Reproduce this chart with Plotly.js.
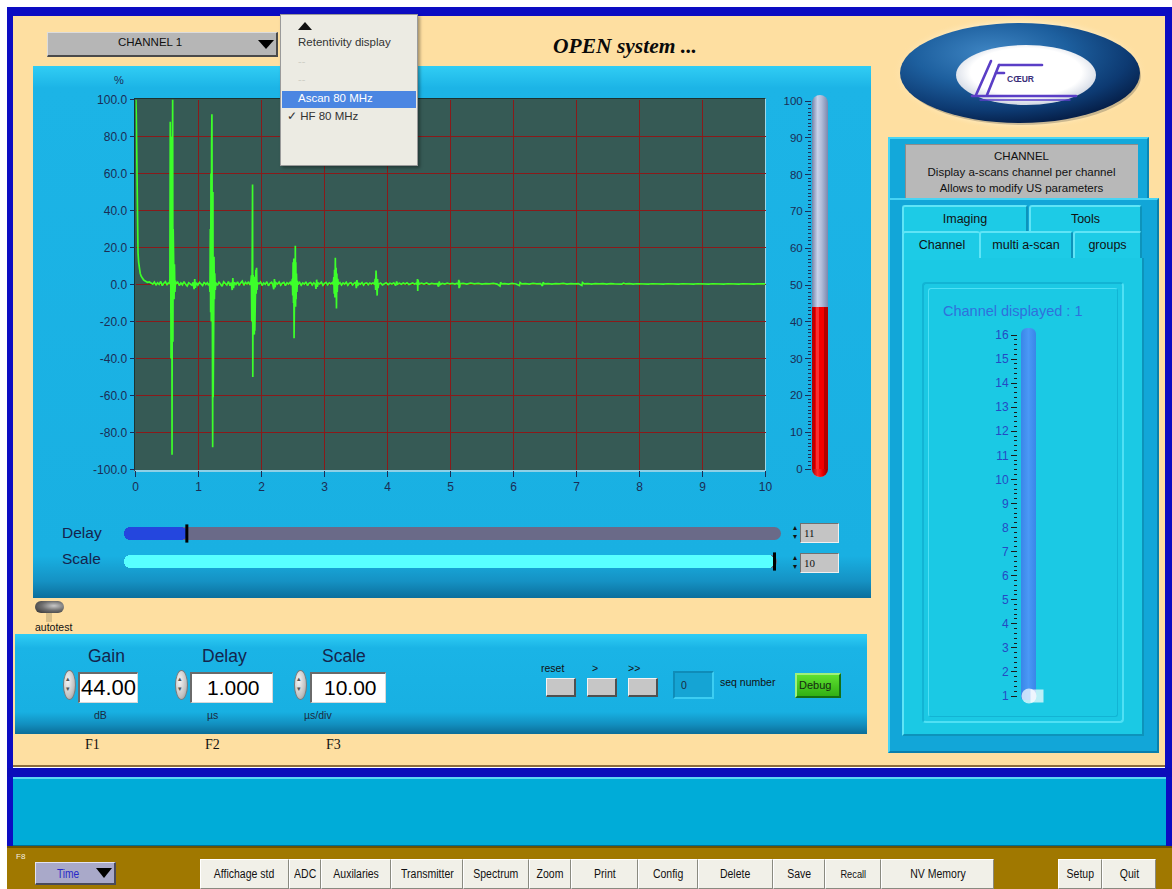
<!DOCTYPE html>
<html>
<head>
<meta charset="utf-8">
<script src="https://cdn.plot.ly/plotly-3.0.1.min.js"></script>
<style>
  body { margin: 0; background: #ffffff; }
  #app { position: relative; width: 1172px; height: 889px; overflow: hidden; background: #ffffff;
         font-family: "Liberation Sans", Arial, sans-serif; }
  .a { position: absolute; box-sizing: border-box; }
  .t { position: absolute; white-space: nowrap; line-height: 1; }
  .btn { position: absolute; box-sizing: border-box; background: #f1f0e8; border-top: 1px solid #ffffff;
         border-left: 1px solid #ffffff; border-right: 1px solid #8a8a80; border-bottom: 1px solid #8a8a80;
         display: flex; align-items: center; justify-content: center; font-size: 12.5px; color: #111; }
  .btn span { display: inline-block; transform: scaleX(0.84); }
  .tab { position: absolute; box-sizing: border-box; background: #1dcbe6; border-top: 2px solid #5fe4f6;
         border-left: 2px solid #5fe4f6; border-right: 2px solid #0d93bb; border-radius: 3px 3px 0 0;
         display: flex; justify-content: center; font-size: 12.5px; color: #111; padding-top: 5px; }
  .spin { position: absolute; box-sizing: border-box; border-radius: 50%; border: 1px solid #7a7a7a;
          background: radial-gradient(ellipse at 35% 35%, #f4f4f4 0%, #c4c4c4 60%, #8c8c8c 100%); }
  .valbox { position: absolute; box-sizing: border-box; background: #ffffff; border-top: 2px solid #6a6a6a;
            border-left: 2px solid #6a6a6a; border-right: 1px solid #d8d8d8; border-bottom: 1px solid #d8d8d8;
            font-size: 21px; color: #000; display: flex; align-items: center; }
  .gbtn { position: absolute; box-sizing: border-box; background: #c6c6c6; border-top: 1px solid #f4f4f4;
          border-left: 1px solid #f4f4f4; border-right: 2px solid #505050; border-bottom: 2px solid #505050; }
  .numctl { position: absolute; box-sizing: border-box; background: #c4c4c4; border-top: 1px solid #707070;
            border-left: 1px solid #707070; border-right: 1px solid #f0f0f0; border-bottom: 1px solid #f0f0f0;
            font-family: "Liberation Serif", serif; font-size: 11px; color: #111; padding: 3px 0 0 3px; }
  #plot .gridlayer path, #plot path.xtick, #plot path.ytick { shape-rendering: crispEdges; }
</style>
</head>
<body>
<div id="app">
  <!-- window frame -->
  <div class="a" style="left:7px;top:7px;width:1165px;height:9px;background:#0c0cc2;"></div>
  <div class="a" style="left:7px;top:7px;width:6px;height:882px;background:#0c0cc2;"></div>
  <div class="a" style="left:1165px;top:7px;width:7px;height:882px;background:#0c0cc2;"></div>
  <div class="a" style="left:13px;top:16px;width:1152px;height:751px;background:#fedfa1;border-bottom:2px solid #8c6c3c;"></div>

  <!-- channel selector -->
  <div class="a" style="left:47px;top:32px;width:231px;height:25px;background:#b6b6b6;border-top:1px solid #dcdcdc;border-left:1px solid #dcdcdc;border-right:2px solid #4a4a4a;border-bottom:2px solid #4a4a4a;"></div>
  <div class="t" style="left:118px;top:37px;font-size:11.5px;color:#111;">CHANNEL 1</div>
  <div class="a" style="left:258px;top:40px;width:0;height:0;border-left:8px solid transparent;border-right:8px solid transparent;border-top:9px solid #000;"></div>

  <!-- title -->
  <div class="t" style="left:553px;top:36px;font-family:'Liberation Serif',serif;font-weight:bold;font-style:italic;font-size:21.5px;color:#0a0a0a;">OPEN system ...</div>

  <!-- logo -->
  <svg class="a" style="left:892px;top:15px;" width="256" height="118" viewBox="0 0 256 118">
    <defs>
      <radialGradient id="glow" cx="50%" cy="50%" r="50%">
        <stop offset="0.82" stop-color="#fff6dc" stop-opacity="0.9"/>
        <stop offset="1" stop-color="#fedfa1" stop-opacity="0"/>
      </radialGradient>
      <radialGradient id="outer" cx="38%" cy="30%" r="72%">
        <stop offset="0" stop-color="#3f86c4"/>
        <stop offset="0.45" stop-color="#1d5f9e"/>
        <stop offset="0.8" stop-color="#0d3a72"/>
        <stop offset="1" stop-color="#06204a"/>
      </radialGradient>
      <radialGradient id="inner" cx="50%" cy="45%" r="55%">
        <stop offset="0.72" stop-color="#ffffff"/>
        <stop offset="1" stop-color="#cfd6e2"/>
      </radialGradient>
    </defs>
    <ellipse cx="128" cy="58" rx="128" ry="58" fill="url(#glow)"/>
    <ellipse cx="130" cy="61" rx="119" ry="49" fill="#6b6250" opacity="0.35"/>
    <ellipse cx="128" cy="58" rx="120" ry="50" fill="url(#outer)"/>
    <ellipse cx="134" cy="60" rx="70" ry="30" fill="url(#inner)"/>
    <g stroke="#5a3ec6" stroke-width="2.6" fill="none" stroke-linecap="round">
      <path d="M84 80 L99 46"/>
      <path d="M95 80 L107 50"/>
      <path d="M107 50 L150 50"/>
      <path d="M104 58 L112 58"/>
      <path d="M80 81 L184 81"/>
      <path d="M88 85 L178 85" stroke-width="1.3"/>
    </g>
    <text x="115" y="67" font-family="Liberation Sans, Arial" font-size="8.5" font-weight="bold" fill="#3a2f7a">CŒUR</text>
  </svg>

  <!-- main scope panel -->
  <div class="a" style="left:33px;top:66px;width:838px;height:532px;background:linear-gradient(to bottom,#31cdf4 0px,#1cb4e6 22px,#19b0e2 490px,#1592c4 515px,#0c6f9c 532px);"></div>
  <div class="a" style="left:134px;top:98px;width:632px;height:374px;background:#365a55;border-top:1px solid #1c3230;border-left:1px solid #1c3230;border-right:1px solid #9fd6e6;border-bottom:2px solid #8fd0e6;"></div>
  <div class="t" style="left:114px;top:75px;font-size:11px;color:#1b2d55;">%</div>

  <!-- gauge tube (empty part) and round bottom -->
  <div class="a" style="left:812px;top:95px;width:16px;height:382px;border-radius:8px;background:linear-gradient(to right,#7383a8 0%,#c9d2ea 35%,#b0bcd8 60%,#7a88ad 100%);"></div>
  <div class="a" style="left:812px;top:460px;width:16px;height:17px;border-radius:0 0 8px 8px;background:linear-gradient(to right,#a00000 0%,#ff2a2a 35%,#ee0000 65%,#8a0000 100%);"></div>

  <!-- delay / scale sliders -->
  <div class="t" style="left:62px;top:525px;font-size:15.5px;color:#15234d;">Delay</div>
  <div class="t" style="left:62px;top:551px;font-size:15.5px;color:#15234d;">Scale</div>
  <div class="a" style="left:124px;top:527px;width:657px;height:13px;border-radius:7px;background:#6a6a88;"></div>
  <div class="a" style="left:124px;top:555px;width:653px;height:13px;border-radius:7px;background:#6a6a88;"></div>
  <div class="t" style="left:793px;top:523px;font-size:8px;line-height:9px;color:#111;">▴<br>▾</div>
  <div class="numctl" style="left:800px;top:523px;width:39px;height:20px;">11</div>
  <div class="t" style="left:793px;top:553px;font-size:8px;line-height:9px;color:#111;">▴<br>▾</div>
  <div class="numctl" style="left:800px;top:553px;width:39px;height:20px;">10</div>

  <!-- autotest toggle -->
  <div class="a" style="left:46px;top:608px;width:6px;height:14px;background:#d9c08a;"></div>
  <div class="a" style="left:35px;top:601px;width:29px;height:12px;border-radius:6px;background:radial-gradient(ellipse at 65% 40%,#c8c8c8 0%,#707070 45%,#2c2c2c 100%);"></div>
  <div class="t" style="left:35px;top:622px;font-size:10.5px;color:#111;">autotest</div>

  <!-- lower control panel -->
  <div class="a" style="left:15px;top:634px;width:852px;height:100px;background:linear-gradient(to bottom,#2fcdf5 0px,#1ab4e6 14px,#18b0e2 78px,#1290c0 90px,#0b6d98 100px);"></div>
  <div class="t" style="left:88px;top:648px;font-size:17.5px;color:#14254d;">Gain</div>
  <div class="spin" style="left:63px;top:670px;width:13px;height:30px;"></div>
  <div class="t" style="left:66px;top:674px;font-size:7px;line-height:10px;color:#555;">▴<br>▾</div>
  <div class="valbox" style="left:78px;top:672px;width:60px;height:31px;padding-left:1px;font-size:22px;">44.00</div>
  <div class="t" style="left:94px;top:710px;font-size:10.5px;color:#1a2a40;">dB</div>

  <div class="t" style="left:202px;top:648px;font-size:17.5px;color:#14254d;">Delay</div>
  <div class="spin" style="left:175px;top:670px;width:13px;height:30px;"></div>
  <div class="t" style="left:178px;top:674px;font-size:7px;line-height:10px;color:#555;">▴<br>▾</div>
  <div class="valbox" style="left:190px;top:672px;width:83px;height:31px;padding-left:15px;">1.000</div>
  <div class="t" style="left:207px;top:710px;font-size:10.5px;color:#1a2a40;">µs</div>

  <div class="t" style="left:322px;top:648px;font-size:17.5px;color:#14254d;">Scale</div>
  <div class="spin" style="left:294px;top:670px;width:13px;height:30px;"></div>
  <div class="t" style="left:297px;top:674px;font-size:7px;line-height:10px;color:#555;">▴<br>▾</div>
  <div class="valbox" style="left:310px;top:672px;width:76px;height:31px;padding-left:12px;">10.00</div>
  <div class="t" style="left:304px;top:710px;font-size:10.5px;color:#1a2a40;">µs/div</div>

  <div class="t" style="left:85px;top:738px;font-family:'Liberation Serif',serif;font-size:14px;color:#111;">F1</div>
  <div class="t" style="left:205px;top:738px;font-family:'Liberation Serif',serif;font-size:14px;color:#111;">F2</div>
  <div class="t" style="left:326px;top:738px;font-family:'Liberation Serif',serif;font-size:14px;color:#111;">F3</div>

  <div class="t" style="left:541px;top:663px;font-size:10.5px;color:#111;">reset</div>
  <div class="t" style="left:592px;top:663px;font-size:10.5px;color:#111;">&gt;</div>
  <div class="t" style="left:628px;top:663px;font-size:10.5px;color:#111;">&gt;&gt;</div>
  <div class="gbtn" style="left:546px;top:678px;width:30px;height:19px;"></div>
  <div class="gbtn" style="left:587px;top:678px;width:30px;height:19px;"></div>
  <div class="gbtn" style="left:628px;top:678px;width:30px;height:19px;"></div>
  <div class="a" style="left:673px;top:671px;width:41px;height:28px;background:#15a4d4;border:2px solid #0f8cb8;border-right-color:#3ccdf2;border-bottom-color:#3ccdf2;"></div>
  <div class="t" style="left:681px;top:680px;font-size:10.5px;color:#1a2a40;">0</div>
  <div class="t" style="left:720px;top:677px;font-size:10.5px;color:#111;">seq number</div>
  <div class="a" style="left:795px;top:673px;width:46px;height:25px;background:linear-gradient(to bottom,#5ee030,#32b014);border:2px solid #147014;border-top-color:#9ff07a;border-left-color:#9ff07a;"></div>
  <div class="t" style="left:799px;top:680px;font-size:11px;color:#142a10;">Debug</div>

  <!-- right side panel -->
  <div class="a" style="left:888px;top:137px;width:261px;height:66px;background:#13a8da;border-top:2px solid #48d4f4;border-left:2px solid #48d4f4;border-right:2px solid #0b86b4;"></div>
  <div class="a" style="left:905px;top:144px;width:233px;height:55px;background:#b8b8b8;border-top:1px solid #8c8c8c;border-left:1px solid #8c8c8c;"></div>
  <div class="t" style="left:905px;top:148px;width:233px;text-align:center;font-size:11.5px;line-height:16px;color:#111;">CHANNEL<br>Display a-scans channel per channel<br>Allows to modify US parameters</div>
  <div class="a" style="left:888px;top:198px;width:271px;height:555px;background:#12a6d8;border-top:2px solid #48d4f4;border-left:2px solid #48d4f4;border-right:2px solid #0a7fab;border-bottom:2px solid #0a7fab;"></div>
  <div class="tab" style="left:902px;top:205px;width:126px;height:28px;">Imaging</div>
  <div class="tab" style="left:1029px;top:205px;width:113px;height:28px;">Tools</div>
  <div class="a" style="left:902px;top:258px;width:242px;height:478px;background:#1bc9e4;border-left:2px solid #5fe4f6;border-right:2px solid #0d93bb;border-bottom:2px solid #0d93bb;"></div>
  <div class="tab" style="left:902px;top:231px;width:78px;height:29px;border-right:none;">Channel</div>
  <div class="tab" style="left:979px;top:231px;width:94px;height:27px;">multi a-scan</div>
  <div class="tab" style="left:1073px;top:231px;width:69px;height:27px;">groups</div>
  <div class="a" style="left:922px;top:282px;width:202px;height:441px;border:2px solid #12b4d4;border-bottom-color:#4fe0f4;border-right-color:#4fe0f4;border-radius:4px;"></div>
  <div class="a" style="left:928px;top:288px;width:190px;height:429px;border:1px solid #4fe0f4;border-bottom-color:#12b4d4;border-right-color:#12b4d4;border-radius:3px;"></div>
  <div class="t" style="left:943px;top:304px;font-size:14.5px;color:#3070dc;">Channel displayed : 1</div>
  <div class="a" style="left:1021px;top:328px;width:15px;height:372px;border-radius:6px 6px 3px 3px;background:linear-gradient(to right,#3a86e8,#4a98f6 50%,#3a86e8);"></div>

  <!-- bottom area -->
  <div class="a" style="left:7px;top:768px;width:1165px;height:9px;background:#0c0cba;"></div>
  <div class="a" style="left:13px;top:777px;width:1153px;height:69px;background:#00acd8;border-top:2px solid #5cd6f2;border-bottom:1px solid #006e94;"></div>
  <div class="a" style="left:7px;top:846px;width:1165px;height:43px;background:#a07800;border-top:2px solid #6c5200;"></div>
  <div class="t" style="left:16px;top:853px;font-size:8px;color:#f4f0e0;">F8</div>
  <div class="a" style="left:35px;top:862px;width:81px;height:23px;background:#a9a9c9;border-top:1px solid #e2e2f2;border-left:1px solid #e2e2f2;border-right:2px solid #4a4a5a;border-bottom:2px solid #4a4a5a;"></div>
  <div class="t" style="left:55px;top:868px;font-size:12px;color:#2828c8;"><span style="display:inline-block;transform:scaleX(0.85);">Time</span></div>
  <div class="a" style="left:96px;top:868px;width:0;height:0;border-left:8px solid transparent;border-right:8px solid transparent;border-top:10px solid #000;"></div>
  <div id="toolbar"></div>

  <!-- plotly layer -->
  <div id="plot" class="a" style="left:0;top:0;width:1172px;height:889px;z-index:5;pointer-events:none;"></div>

  <!-- display mode menu (open) -->
  <div class="a" style="left:280px;top:14px;width:138px;height:152px;background:#ecebe3;border:1px solid #9a9a9a;box-shadow:2px 2px 3px rgba(0,0,0,0.35);z-index:10;">
    <div class="a" style="left:17px;top:7px;width:0;height:0;border-left:7px solid transparent;border-right:7px solid transparent;border-bottom:8px solid #111;"></div>
    <div class="t" style="left:17px;top:22px;font-size:11.5px;color:#333;">Retentivity display</div>
    <div class="t" style="left:17px;top:41px;font-size:11px;color:#cfcfc6;">--</div>
    <div class="t" style="left:17px;top:59px;font-size:11px;color:#cfcfc6;">--</div>
    <div class="a" style="left:1px;top:76px;width:134px;height:17px;background:#4b86e2;"></div>
    <div class="t" style="left:17px;top:78px;font-size:11.5px;color:#ffffff;">Ascan 80 MHz</div>
    <div class="t" style="left:6px;top:96px;font-size:11.5px;color:#333;">✓ HF 80 MHz</div>
  </div>
</div>

<script>
// A-scan trace: [time (µs), amplitude (%)]
const ascan = [
  // initial pulse
  [0,99],[0.006,100],[0.012,92],[0.018,65],[0.024,38],[0.03,22],[0.04,17],[0.05,12],[0.06,8.5],[0.075,6],
  [0.09,4.5],[0.11,3.2],[0.13,2.4],[0.16,1.8],[0.19,1.2],[0.22,1.4],[0.25,0.9],
  [0.275,0.2],[0.30,1.3],[0.325,-0.4],[0.35,0.9],[0.375,0.1],[0.40,1.6],[0.425,-0.6],[0.45,0.7],[0.475,1.5],
  [0.50,-0.3],[0.52,0.8],
  // echo 1
  [0.540,0.5],[0.546,3],[0.552,88],[0.556,-10],[0.560,70],[0.564,-40],[0.568,75],[0.572,-50],[0.576,80],
  [0.580,-92],[0.585,62],[0.590,100],[0.594,-31],[0.598,30],[0.602,-25],[0.606,12],[0.612,-8],[0.618,11],
  [0.626,-4],[0.634,2],[0.645,0.3],
  [0.67,1.2],[0.695,-0.5],[0.72,0.8],[0.745,-0.2],[0.77,1.5],[0.795,0.1],[0.82,-0.8],[0.845,0.9],[0.87,0.3],
  [0.895,-0.4],[0.915,1.2],[0.93,-2.5],[0.94,3],[0.95,-1.8],[0.965,1],[0.99,-0.3],[1.015,1.1],[1.04,0.2],
  [1.065,-0.6],[1.09,1.3],[1.115,0],[1.14,0.9],[1.16,-0.5],[1.175,0.6],
  // echo 2
  [1.182,-4],[1.188,30],[1.193,-15],[1.198,60],[1.203,-20],[1.208,76],[1.213,92],[1.217,-45],[1.221,70],
  [1.225,-88],[1.229,50],[1.233,-61],[1.237,30],[1.241,-22],[1.246,15],[1.252,-8],[1.258,6],[1.266,-3],[1.276,1],
  [1.30,-0.5],[1.325,1.2],[1.35,0.2],[1.375,-0.9],[1.40,1.4],[1.425,0.4],[1.45,-0.3],[1.475,1.6],[1.50,-0.6],
  [1.52,1],[1.535,-3],[1.545,3.5],[1.555,-2],[1.57,1.2],[1.595,0],[1.62,1.4],[1.645,-0.5],[1.67,0.9],[1.695,1.8],
  [1.72,-0.4],[1.745,1.1],[1.77,0.3],[1.795,1.5],[1.815,-0.2],[1.83,0.8],
  // echo 3
  [1.840,5],[1.846,-20],[1.852,10],[1.858,54],[1.862,-50],[1.866,5],[1.870,-27],[1.874,4],[1.878,-26],
  [1.882,3],[1.886,-27],[1.890,4],[1.894,-25],[1.898,2],[1.904,-15],[1.910,8],[1.916,-5],[1.922,9],
  [1.928,-3],[1.936,1],
  [1.96,0.4],[1.985,1.3],[2.01,-0.5],[2.035,0.8],[2.06,0.1],[2.085,1.5],[2.11,-0.7],[2.135,0.6],[2.16,1.2],
  [2.18,-0.2],[2.195,-2.6],[2.205,3],[2.215,-1.5],[2.23,0.9],[2.255,0.2],[2.28,1.3],[2.305,-0.4],[2.33,0.7],
  [2.355,1.1],[2.38,-0.6],[2.405,0.9],[2.43,0.2],[2.455,1.2],[2.475,-0.3],
  // echo 4
  [2.490,3],[2.496,-6],[2.502,12],[2.508,-10],[2.513,14],[2.517,-29],[2.521,13],[2.525,-12],[2.529,14],
  [2.533,-11],[2.537,21],[2.541,-12],[2.545,12],[2.549,-8],[2.555,6],[2.562,-4],[2.570,2],[2.580,0],
  [2.605,1.1],[2.63,-0.4],[2.655,0.8],[2.68,0.2],[2.705,1.4],[2.73,-0.5],[2.755,0.7],[2.78,1],[2.805,-0.3],
  [2.83,0.9],[2.855,0.1],[2.865,-2.4],[2.875,2.6],[2.885,-1.2],[2.90,0.8],[2.925,0.3],[2.95,1.2],[2.975,-0.4],
  [3.00,0.6],[3.025,1.1],[3.05,-0.2],[3.075,0.9],[3.10,0.3],[3.125,1],
  // echo 5
  [3.140,0],[3.148,4],[3.154,-5],[3.160,8],[3.166,-7],[3.172,14.5],[3.178,-6],[3.184,9],[3.190,-13],
  [3.196,6],[3.202,-4],[3.210,3],[3.220,0],
  [3.245,1],[3.27,-0.3],[3.295,0.8],[3.32,0.2],[3.345,1.2],[3.37,-0.4],[3.395,0.7],[3.42,1],[3.445,-0.2],
  [3.47,0.6],[3.495,1.3],[3.505,-2],[3.515,2.4],[3.525,-0.8],[3.545,0.6],[3.57,0.2],[3.595,1],[3.62,-0.3],
  [3.645,0.7],[3.67,0.9],[3.695,-0.1],[3.72,0.8],[3.745,0.3],[3.77,0.9],
  // echo 6
  [3.795,0],[3.805,3],[3.812,-3],[3.818,7.5],[3.824,-4],[3.830,5],[3.836,-6],[3.842,3],[3.850,-2],[3.860,0.3],
  [3.89,0.8],[3.92,-0.2],[3.95,0.6],[3.98,0.9],[4.01,-0.1],[4.04,0.7],[4.07,0.3],[4.10,0.9],[4.13,-0.6],
  [4.145,1.6],[4.16,0.2],[4.19,0.7],[4.22,0.1],[4.25,0.8],[4.28,0.3],[4.31,0.9],[4.34,0],[4.37,0.6],
  [4.40,0.8],[4.43,0.2],[4.455,0.6],
  // echo 7
  [4.470,0],[4.476,3],[4.480,-3.5],[4.484,2.5],[4.488,-2],[4.494,1],[4.502,0.2],
  [4.54,0.7],[4.58,0.2],[4.62,0.8],[4.66,0.1],[4.70,0.6],[4.74,0.3],[4.79,0.5],[4.81,-1.2],[4.82,1.6],
  [4.835,0],[4.87,0.6],[4.91,0.2],[4.95,0.7],[4.99,0.3],[5.03,0.6],[5.07,0.2],[5.10,0.6],
  // echo 8
  [5.125,0.2],[5.131,2.5],[5.136,-2],[5.140,2],[5.145,-1.5],[5.152,0.4],
  // tail
  [5.20,0.6],[5.26,0.2],[5.32,0.7],[5.38,0.3],[5.44,0.6],[5.50,0.2],[5.56,0.5],[5.62,0.3],[5.68,0.6],
  [5.74,0.2],[5.785,-0.8],[5.795,1.2],[5.81,0.3],[5.86,0.5],[5.92,0.2],[5.98,0.6],[6.04,0.3],[6.095,-0.6],
  [6.105,1],[6.13,0.3],[6.19,0.5],[6.25,0.2],[6.31,0.6],[6.37,0.3],[6.43,0.5],[6.46,-0.8],[6.47,1.2],
  [6.49,0.3],[6.55,0.5],[6.61,0.2],[6.67,0.5],[6.73,0.3],[6.79,0.6],[6.85,0.2],[6.91,0.5],[6.97,0.3],
  [7.03,0.5],[7.085,-0.5],[7.095,1],[7.12,0.3],[7.18,0.5],[7.24,0.2],[7.30,0.5],[7.36,0.3],[7.42,0.5],
  [7.48,0.2],[7.54,0.5],[7.60,0.3],[7.66,0.4],[7.72,0.2],[7.745,0.7],[7.78,0.3],[7.84,0.5],[7.90,0.2],
  [7.96,0.4],[8.02,0.3],[8.08,0.5],[8.14,0.2],[8.20,0.4],[8.26,0.3],[8.32,0.5],[8.38,0.2],[8.44,0.4],
  [8.50,0.3],[8.56,0.4],[8.62,0.2],[8.68,0.4],[8.74,0.3],[8.80,0.5],[8.86,0.2],[8.92,0.4],[8.98,0.3],
  [9.04,0.4],[9.10,0.2],[9.16,0.4],[9.22,0.3],[9.28,0.5],[9.34,0.2],[9.40,0.4],[9.46,0.3],[9.52,0.4],
  [9.58,0.2],[9.64,0.4],[9.70,0.3],[9.76,0.4],[9.82,0.2],[9.88,0.4],[9.94,0.3],[10,0.3]
];
const timeUs = ascan.map(p => p[0]);
const amplitudePct = ascan.map(p => p[1]);

const xTickVals = [0,1,2,3,4,5,6,7,8,9,10];
const xTickLabels = ['0','1','2','3','4','5','6','7','8','9','10'];
const yTickVals = [100,80,60,40,20,0,-20,-40,-60,-80,-100];
const yTickLabels = ['100.0','80.0','60.0','40.0','20.0','0.0','-20.0','-40.0','-60.0','-80.0','-100.0'];

const gaugeLevel = 44;          // gain gauge, 0..100
const channelShown = 1;         // channel slider, 1..16
const delaySlider = 11;
const scaleSlider = 10;

const toolbarLabels = ['Affichage std','ADC','Auxilaries','Transmitter','Spectrum','Zoom','Print','Config',
                       'Delete','Save','Recall','NV Memory','Setup','Quit'];

// bottom toolbar buttons
(function () {
  const edges = [[200,289],[289,321],[321,391],[391,463],[463,529],[529,571],[571,638],[638,698],
                 [698,773],[773,825],[825,881],[881,994],[1058,1102],[1102,1156]];
  const bar = document.getElementById('toolbar');
  toolbarLabels.forEach((lab, i) => {
    const b = document.createElement('div');
    b.className = 'btn';
    b.style.left = edges[i][0] + 'px';
    b.style.top = '859px';
    b.style.width = (edges[i][1] - edges[i][0]) + 'px';
    b.style.height = '30px';
    if (lab === 'Recall') b.style.fontSize = '11px';
    b.innerHTML = '<span>' + lab + '</span>';
    bar.appendChild(b);
  });
})();

const W = 1172, H = 889;
const fx = px => px / W;
const fy = py => 1 - py / H;

const tickFont = { family: 'Liberation Sans, Arial, sans-serif', size: 12, color: '#1b2d55' };

const traces = [
  { type: 'scatter', mode: 'lines', x: timeUs, y: amplitudePct, xaxis: 'x', yaxis: 'y',
    line: { color: '#3cff2a', width: 1.7 }, hoverinfo: 'skip' },
  { type: 'bar', x: [0.5], y: [gaugeLevel], base: 0, width: 1, xaxis: 'x2', yaxis: 'y2',
    marker: { color: '#f40000', line: { width: 0 } }, hoverinfo: 'skip' },
  { type: 'scatter', mode: 'markers', x: [0.55, 0.95], y: [channelShown, channelShown], xaxis: 'x3', yaxis: 'y3',
    cliponaxis: false, hoverinfo: 'skip',
    marker: { symbol: ['circle', 'square'], size: [15, 13], color: '#ffffff', line: { width: 0 } } },
  { type: 'bar', orientation: 'h', x: [delaySlider], y: [0], base: 0, width: 1, xaxis: 'x4', yaxis: 'y4',
    marker: { color: '#2446de', cornerradius: 6, line: { width: 0 } }, hoverinfo: 'skip' },
  { type: 'scatter', mode: 'markers', x: [delaySlider], y: [0], xaxis: 'x4', yaxis: 'y4', cliponaxis: false,
    marker: { symbol: 'line-ns', size: 13, line: { width: 3, color: '#000000' } }, hoverinfo: 'skip' },
  { type: 'bar', orientation: 'h', x: [scaleSlider], y: [0], base: 0, width: 1, xaxis: 'x5', yaxis: 'y5',
    marker: { color: '#58ffff', cornerradius: 6, line: { width: 0 } }, hoverinfo: 'skip' },
  { type: 'scatter', mode: 'markers', x: [scaleSlider], y: [0], xaxis: 'x5', yaxis: 'y5', cliponaxis: false,
    marker: { symbol: 'line-ns', size: 13, line: { width: 3, color: '#000000' } }, hoverinfo: 'skip' }
];

const hidden = { visible: false, fixedrange: true };

const layout = {
  width: W, height: H,
  margin: { l: 0, r: 0, t: 0, b: 0, pad: 0 },
  paper_bgcolor: 'rgba(0,0,0,0)',
  plot_bgcolor: 'rgba(0,0,0,0)',
  showlegend: false,
  bargap: 0,
  // scope axes: 63 px per division horizontally, 37 px per division vertically
  xaxis: {
    domain: [fx(135.5), fx(765.5)], range: [0, 10], anchor: 'y',
    tickmode: 'array', tickvals: xTickVals, ticktext: xTickLabels,
    showgrid: true, gridcolor: '#8a1a1a', gridwidth: 1, zeroline: false, showline: false,
    ticks: 'outside', ticklen: 6, tickcolor: '#1b2d55', tickwidth: 1, tickfont: tickFont, fixedrange: true
  },
  yaxis: {
    domain: [fy(469.5), fy(99.5)], range: [-100, 100], anchor: 'x',
    tickmode: 'array', tickvals: yTickVals, ticktext: yTickLabels,
    showgrid: true, gridcolor: '#8a1a1a', gridwidth: 1, zeroline: false, showline: false,
    ticks: 'outside', ticklen: 5, tickcolor: '#1b2d55', tickwidth: 1, tickfont: tickFont, fixedrange: true
  },
  xaxis2: Object.assign({ domain: [fx(812), fx(828)], range: [0, 1], anchor: 'y2' }, hidden),
  yaxis2: {
    domain: [fy(469), fy(101)], range: [0, 100], anchor: 'x2', side: 'left',
    tickmode: 'linear', tick0: 0, dtick: 10, showgrid: false, zeroline: false, showline: false,
    ticks: 'outside', ticklen: 6, tickcolor: '#1b2d55', tickwidth: 1,
    tickfont: { family: 'Liberation Sans, Arial, sans-serif', size: 11.5, color: '#1b2d55' },
    minor: { ticks: 'outside', tick0: 0, dtick: 1, ticklen: 3, tickcolor: '#1b2d55', showgrid: false },
    fixedrange: true
  },
  xaxis3: Object.assign({ domain: [fx(1018), fx(1038)], range: [0, 1], anchor: 'y3' }, hidden),
  yaxis3: {
    domain: [fy(696), fy(335)], range: [1, 16], anchor: 'x3', side: 'left',
    tickmode: 'linear', tick0: 1, dtick: 1, showgrid: false, zeroline: false, showline: false,
    ticks: 'outside', ticklen: 6, tickcolor: '#1a1a1a', tickwidth: 1,
    tickfont: { family: 'Liberation Sans, Arial, sans-serif', size: 12, color: '#2549c4' },
    minor: { ticks: 'outside', tick0: 1, dtick: 0.2, ticklen: 3, tickcolor: '#1a1a1a', showgrid: false },
    fixedrange: true
  },
  xaxis4: Object.assign({ domain: [fx(124), fx(781)], range: [0, 115], anchor: 'y4' }, hidden),
  yaxis4: Object.assign({ domain: [fy(540), fy(527)], range: [-0.5, 0.5], anchor: 'x4' }, hidden),
  xaxis5: Object.assign({ domain: [fx(124), fx(781)], range: [0, 10.1], anchor: 'y5' }, hidden),
  yaxis5: Object.assign({ domain: [fy(568), fy(555)], range: [-0.5, 0.5], anchor: 'x5' }, hidden),
  shapes: [
    // cylinder shading over the gauge fill
    { type: 'rect', xref: 'paper', yref: 'y2', x0: fx(812), x1: fx(815), y0: 0, y1: gaugeLevel,
      fillcolor: 'rgba(90,0,0,0.35)', line: { width: 0 }, layer: 'above' },
    { type: 'rect', xref: 'paper', yref: 'y2', x0: fx(816), x1: fx(819), y0: 0, y1: gaugeLevel,
      fillcolor: 'rgba(255,140,140,0.35)', line: { width: 0 }, layer: 'above' },
    { type: 'rect', xref: 'paper', yref: 'y2', x0: fx(824), x1: fx(828), y0: 0, y1: gaugeLevel,
      fillcolor: 'rgba(80,0,0,0.4)', line: { width: 0 }, layer: 'above' }
  ]
};

Plotly.newPlot('plot', traces, layout, { staticPlot: true, displayModeBar: false });
</script>
</body>
</html>
